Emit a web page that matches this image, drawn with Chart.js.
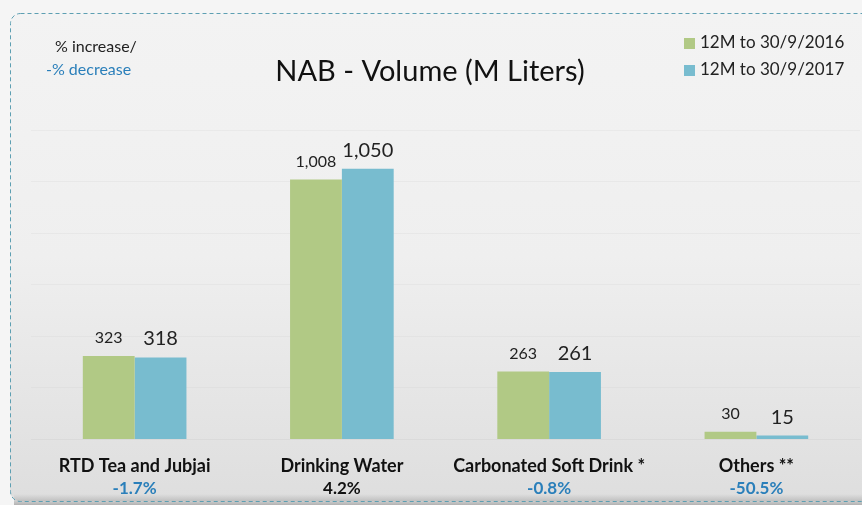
<!DOCTYPE html>
<html>
<head>
<meta charset="utf-8">
<script src="https://cdn.jsdelivr.net/npm/chart.js@4.4.1/dist/chart.umd.min.js"></script>
<style>
  html, body { margin: 0; padding: 0; background: #f4f4f4; }
  #wrap { position: relative; width: 862px; height: 505px; }
</style>
</head>
<body>
<div id="wrap"><canvas id="c" width="862" height="505"></canvas></div>
<script>
const categories = ['RTD Tea and Jubjai', 'Drinking Water', 'Carbonated Soft Drink *', 'Others **'];
const vol2016 = [323, 1008, 263, 30];
const vol2017 = [318, 1050, 261, 15];
const changeLabels = ['-1.7%', '4.2%', '-0.8%', '-50.5%'];
const seriesNames = ['12M to 30/9/2016', '12M to 30/9/2017'];
const yTicks = [0, 200, 400, 600, 800, 1000, 1200];

const GREEN = '#b1c985';
const BLUE = '#78bccf';
const TEXT_BLUE = '#2a7fba';
const FONT = "Lato, 'Open Sans', sans-serif";

const fmt = v => v.toLocaleString('en-US');

// Frame, gradient panel and the heading texts behind the chart
const panelPlugin = {
  id: 'panel',
  beforeDraw(chart) {
    const ctx = chart.ctx;
    ctx.save();
    ctx.fillStyle = '#f5f5f5';
    ctx.fillRect(0, 0, chart.width, chart.height);
    const x = 10, y = 13, w = 870, h = 488, r = 10;
    const g = ctx.createLinearGradient(0, y, 0, y + h);
    g.addColorStop(0, '#f3f3f3');
    g.addColorStop(0.5, '#efefef');
    g.addColorStop(1, '#dedede');
    ctx.beginPath();
    ctx.roundRect(x, y, w, h, r);
    ctx.fillStyle = g;
    ctx.fill();
    // bottom shade strip
    const s = ctx.createLinearGradient(0, 494, 0, 505);
    s.addColorStop(0, 'rgba(160,160,160,0)');
    s.addColorStop(1, 'rgba(150,150,150,0.7)');
    ctx.fillStyle = s;
    ctx.fillRect(x + 4, 494, w, 11);
    ctx.setLineDash([4, 3]);
    ctx.strokeStyle = '#5d9fb2';
    ctx.lineWidth = 1;
    ctx.beginPath();
    ctx.roundRect(x + 0.5, y + 0.5, w, h, r);
    ctx.stroke();
    ctx.setLineDash([]);

    // corner note
    ctx.textBaseline = 'middle';
    ctx.textAlign = 'left';
    ctx.font = '16px ' + FONT;
    ctx.fillStyle = '#222';
    ctx.fillText('% increase/', 55, 47);
    ctx.fillStyle = TEXT_BLUE;
    ctx.fillText('-% decrease', 46, 70);

    // title
    ctx.textAlign = 'center';
    ctx.font = '29px ' + FONT;
    ctx.fillStyle = '#111';
    ctx.fillText('NAB - Volume (M Liters)', 430, 72);

    // legend
    const colors = [GREEN, BLUE];
    ctx.textAlign = 'left';
    ctx.font = '17px ' + FONT;
    seriesNames.forEach((name, i) => {
      const ly = 43 + i * 27;
      ctx.fillStyle = colors[i];
      ctx.fillRect(684, ly - 5, 11, 11);
      ctx.fillStyle = '#222';
      ctx.fillText(name, 700, ly);
    });
    ctx.restore();
  }
};

// Value labels above the bars and the change line under each category
const labelPlugin = {
  id: 'labels',
  afterDatasetsDraw(chart) {
    const ctx = chart.ctx;
    ctx.save();
    ctx.textAlign = 'center';
    ctx.textBaseline = 'alphabetic';
    const fonts = ['16px ' + FONT, '20px ' + FONT];
    chart.data.datasets.forEach((ds, di) => {
      const meta = chart.getDatasetMeta(di);
      meta.data.forEach((bar, i) => {
        ctx.font = fonts[di];
        ctx.fillStyle = '#222';
        ctx.fillText(fmt(ds.data[i]), bar.x, bar.y - (di === 0 ? 13 : 12));
      });
    });
    const xs = chart.scales.x;
    ctx.font = 'bold 17px ' + FONT;
    ctx.textBaseline = 'middle';
    changeLabels.forEach((t, i) => {
      ctx.fillStyle = t.startsWith('-') ? TEXT_BLUE : '#111';
      ctx.fillText(t, xs.getPixelForValue(i), 489);
    });
    ctx.restore();
  }
};

new Chart(document.getElementById('c'), {
  type: 'bar',
  data: {
    labels: categories,
    datasets: [
      { label: seriesNames[0], data: vol2016, backgroundColor: GREEN },
      { label: seriesNames[1], data: vol2017, backgroundColor: BLUE }
    ]
  },
  options: {
    responsive: false,
    animation: false,
    layout: { padding: { top: 130, left: 31, right: 2, bottom: 20 } },
    plugins: { legend: { display: false }, tooltip: { enabled: false }, title: { display: false } },
    datasets: { bar: { categoryPercentage: 0.5, barPercentage: 1.0 } },
    scales: {
      x: {
        grid: { display: false },
        border: { display: true, color: '#dadada' },
        ticks: { color: '#111', font: { family: FONT, size: 18, weight: 'bold' }, padding: 8, maxRotation: 0 }
      },
      y: {
        min: 0, max: 1200,
        afterBuildTicks(scale) { scale.ticks = yTicks.map(v => ({ value: v })); },
        afterFit(scale) { scale.width = 0; },
        grid: { color: 'rgba(205,205,205,0.22)', drawTicks: false },
        border: { display: false },
        ticks: { display: false }
      }
    }
  },
  plugins: [panelPlugin, labelPlugin]
});
</script>
</body>
</html>
